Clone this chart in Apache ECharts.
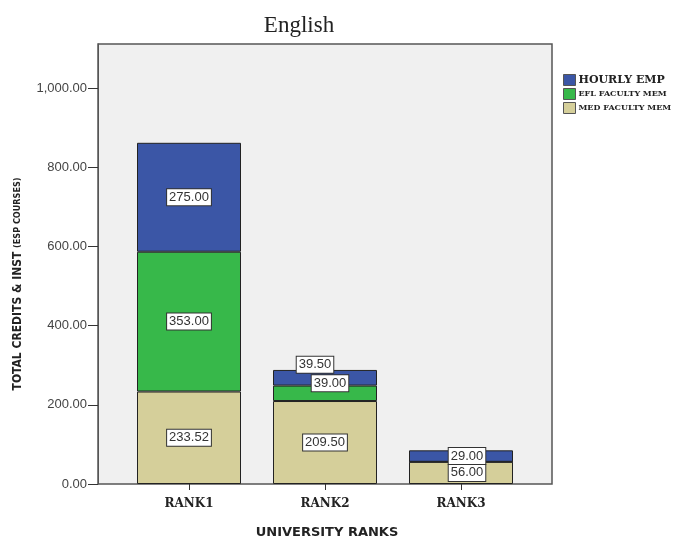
<!DOCTYPE html>
<html><head><meta charset="utf-8">
<script src="https://cdn.jsdelivr.net/npm/echarts@6/dist/echarts.min.js"></script>
<style>html,body{margin:0;padding:0;background:#fff}#c{width:676px;height:539px}</style>
</head><body><div id="c"></div>
<script>
var categories = ['RANK1', 'RANK2', 'RANK3'];
var medFaculty = [233.52, 209.50, 56.00];
var eflFaculty = [353.00, 39.00, 0];
var hourlyEmp = [275.00, 39.50, 29.00];
var yTicks = [0, 200, 400, 600, 800, 1000];
var seriesNames = ['MED FACULTY MEM', 'EFL FACULTY MEM', 'HOURLY EMP'];

var chart = echarts.init(document.getElementById('c'), null, {renderer: 'canvas'});
var yMax = 1111;
function fmt(v){ return Number(v).toLocaleString('en-US',{minimumFractionDigits:2, maximumFractionDigits:2}); }

var labelOffsets = {
  'MED FACULTY MEM': [[0,0],[0,0],[6,0]],
  'EFL FACULTY MEM': [[0,0],[5,-10],[0,0]],
  'HOURLY EMP': [[0,0],[-10,-13],[6,0]]
};
function build(name, arr){
  return arr.map(function(v,i){
    var item = {value: v, label: {offset: labelOffsets[name][i]}};
    if (v === 0) item.label.show = false;
    return item;
  });
}
var colors = {'MED FACULTY MEM':'#d5cf9a','EFL FACULTY MEM':'#37b84a','HOURLY EMP':'#3b56a6'};
var dataMap = {'MED FACULTY MEM': medFaculty, 'EFL FACULTY MEM': eflFaculty, 'HOURLY EMP': hourlyEmp};

var series = seriesNames.map(function(n){
  return {
    name: n, type: 'bar', stack: 'total', xAxisIndex: 1, yAxisIndex: 1,
    barWidth: 104,
    data: build(n, dataMap[n]),
    itemStyle: {color: colors[n], borderColor: '#222', borderWidth: 1},
    label: {show: true, position: 'inside', formatter: function(p){return fmt(p.value);},
      color: '#333', fontFamily: 'Liberation Sans, Arial, sans-serif', fontSize: 13,
      backgroundColor: '#fff', borderColor: '#333', borderWidth: 1, padding: [2,2,1,2]}
  };
});

chart.setOption({
  animation: false,
  title: {text: 'English', left: 294, top: 9, textAlign: 'center',
    textStyle: {fontFamily: 'Liberation Serif, serif', fontSize: 23, fontWeight: 'normal', color: '#222'}},
  legend: {data: ['HOURLY EMP','EFL FACULTY MEM','MED FACULTY MEM'], orient: 'vertical', left: 558, top: 69,
    itemWidth: 12, itemHeight: 11, itemGap: 2, icon: 'rect',
    itemStyle: {borderColor: '#555', borderWidth: 1},
    formatter: function(n){ return n === 'HOURLY EMP' ? '{h|' + n + '}' : '{s|' + n + '}'; },
    textStyle: {fontFamily: 'DejaVu Serif, serif', fontWeight: 'bold', color: '#222', padding: [0,0,0,-2],
      rich: {h: {fontFamily: 'DejaVu Serif, serif', fontWeight: 'bold', fontSize: 11, color: '#222'},
             s: {fontFamily: 'DejaVu Serif, serif', fontWeight: 'bold', fontSize: 8, color: '#222'}}}},
  grid: [
    {left: 98, right: 124, top: 44, bottom: 55, show: true, backgroundColor: '#f0f0f0', borderColor: '#555', borderWidth: 1.5, outerBoundsMode: 'none'},
    {left: 121, right: 147, top: 44, bottom: 55, outerBoundsMode: 'none'}
  ],
  xAxis: [
    {type: 'category', gridIndex: 0, data: categories, show: false},
    {type: 'category', gridIndex: 1, data: categories,
      axisLine: {show: false},
      axisTick: {show: true, alignWithLabel: true, length: 6, lineStyle: {color: '#333'}},
      axisLabel: {margin: 14, fontFamily: 'DejaVu Serif, serif', fontWeight: 'bold', fontSize: 12, color: '#222'},
      name: 'UNIVERSITY RANKS', nameLocation: 'middle', nameGap: 42,
      nameTextStyle: {fontFamily: 'DejaVu Sans, sans-serif', fontWeight: 'bold', fontSize: 13, color: '#222', padding: [0,0,0,4]}}
  ],
  yAxis: [
    {type: 'value', gridIndex: 0, min: 0, max: yMax,
      splitLine: {show: false},
      axisLine: {show: true, lineStyle: {color: '#555'}},
      axisTick: {show: true, length: 10, lineStyle: {color: '#333'}, customValues: yTicks},
      axisLabel: {customValues: yTicks, formatter: fmt, color: '#444', fontFamily: 'Liberation Sans, Arial, sans-serif', fontSize: 13, margin: 11},
      name: 'TOTAL CREDITS & INST {p|(ESP COURSES)}', nameLocation: 'middle', nameGap: 74, nameRotate: 90,
      nameTextStyle: {fontFamily: "'DejaVu Sans Condensed', sans-serif", fontWeight: 'bold', fontSize: 12, color: '#222', padding: [0,40,0,0],
        rich: {p: {fontFamily: "'DejaVu Sans Condensed', sans-serif", fontWeight: 'bold', fontSize: 9, color: '#222'}}}},
    {type: 'value', gridIndex: 1, min: 0, max: yMax, show: false, splitLine: {show: false}}
  ],
  series: series
});
</script></body></html>
